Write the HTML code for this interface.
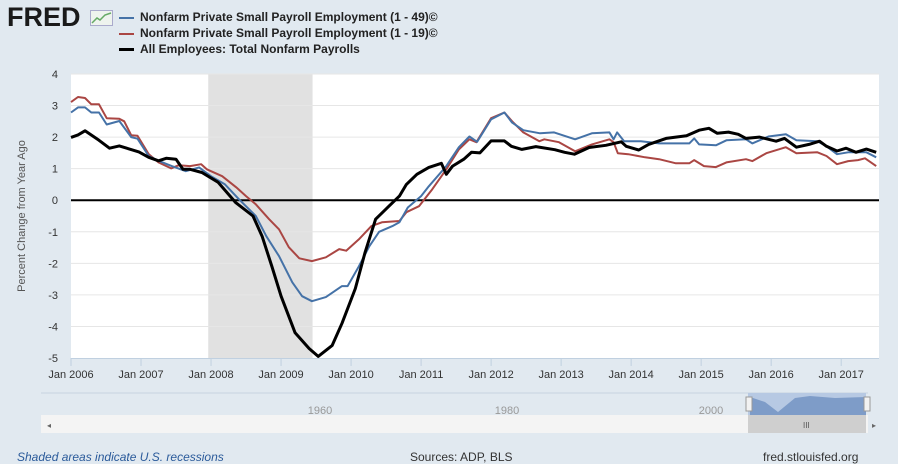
<!DOCTYPE html>
<html><head><meta charset="utf-8">
<style>
body{margin:0;width:898px;height:464px;background:#e1e9f0;font-family:"Liberation Sans",sans-serif;overflow:hidden;position:relative}
.abs{position:absolute}
.leg{left:119px;font-size:12px;font-weight:bold;color:#222;white-space:nowrap}
.sw{display:inline-block;width:15px;height:2px;vertical-align:middle;margin-right:6px}
</style></head><body>
<div class="abs" style="left:7px;top:2px;font-size:27px;font-weight:900;letter-spacing:0px;color:#1a1a1a;font-family:'Liberation Sans',sans-serif">FRED</div>
<svg class="abs" style="left:90px;top:10px" width="23" height="16"><rect x="0.5" y="0.5" width="22" height="15" fill="#eef3ee" stroke="#aac" /><polyline points="2,13 7,8 10,10 15,5 21,3" fill="none" stroke="#6a6" stroke-width="1.5"/></svg>
<div class="abs leg" style="top:10px"><span class="sw" style="background:#4572a7"></span>Nonfarm Private Small Payroll Employment (1 - 49)©</div>
<div class="abs leg" style="top:26px"><span class="sw" style="background:#aa4643"></span>Nonfarm Private Small Payroll Employment (1 - 19)©</div>
<div class="abs leg" style="top:42px"><span class="sw" style="background:#000;height:3px"></span>All Employees: Total Nonfarm Payrolls</div>

<svg id="chart" class="abs" style="left:0;top:0" width="898" height="464"></svg>

<div class="abs" style="left:17px;top:450px;font-size:12px;font-style:italic;color:#2a5a9a">Shaded areas indicate U.S. recessions</div>
<div class="abs" style="left:410px;top:450px;font-size:12px;color:#333">Sources: ADP, BLS</div>
<div class="abs" style="left:763px;top:450px;font-size:12px;color:#333">fred.stlouisfed.org</div>

<script>
const blueX=[2006.0,2006.1,2006.2,2006.29,2006.4,2006.51,2006.69,2006.86,2006.95,2007.11,2007.25,2007.44,2007.64,2007.83,2008.0,2008.2,2008.4,2008.64,2008.79,2008.97,2009.16,2009.3,2009.44,2009.64,2009.87,2009.95,2010.11,2010.26,2010.4,2010.59,2010.69,2010.81,2011.0,2011.11,2011.36,2011.54,2011.69,2011.8,2012.0,2012.19,2012.3,2012.46,2012.7,2012.9,2013.2,2013.44,2013.69,2013.75,2013.8,2013.9,2014.14,2014.4,2014.83,2014.9,2014.97,2015.21,2015.36,2015.64,2015.73,2015.96,2016.21,2016.36,2016.66,2016.79,2016.94,2017.1,2017.24,2017.36,2017.5];
const blueV=[2.78,2.94,2.94,2.78,2.78,2.4,2.51,2.0,1.95,1.4,1.25,1.08,0.92,1.04,0.76,0.5,0.03,-0.5,-1.14,-1.77,-2.6,-3.04,-3.2,-3.07,-2.72,-2.72,-2.1,-1.46,-1.0,-0.82,-0.7,-0.23,0.13,0.44,1.08,1.68,2.02,1.85,2.56,2.78,2.46,2.22,2.12,2.15,1.93,2.12,2.15,1.93,2.15,1.87,1.87,1.8,1.8,1.96,1.77,1.74,1.9,1.93,1.8,2.02,2.09,1.9,1.87,1.71,1.46,1.52,1.52,1.52,1.36];
const redX=[2006.0,2006.1,2006.2,2006.29,2006.4,2006.51,2006.69,2006.76,2006.86,2006.95,2007.11,2007.25,2007.43,2007.54,2007.7,2007.86,2007.94,2008.16,2008.36,2008.5,2008.64,2008.83,2008.97,2009.11,2009.26,2009.44,2009.64,2009.83,2009.93,2010.11,2010.29,2010.44,2010.69,2010.79,2010.97,2011.16,2011.36,2011.54,2011.69,2011.79,2012.0,2012.19,2012.3,2012.46,2012.69,2012.76,2012.97,2013.2,2013.44,2013.69,2013.75,2013.81,2013.96,2014.2,2014.4,2014.64,2014.83,2014.9,2015.04,2015.21,2015.36,2015.64,2015.73,2015.93,2016.21,2016.36,2016.66,2016.79,2016.94,2017.1,2017.24,2017.34,2017.5];
const redV=[3.11,3.27,3.24,3.04,3.04,2.6,2.58,2.5,2.06,2.04,1.46,1.2,1.01,1.11,1.08,1.14,0.98,0.76,0.41,0.13,-0.13,-0.6,-0.92,-1.49,-1.84,-1.93,-1.81,-1.55,-1.6,-1.24,-0.82,-0.7,-0.66,-0.38,-0.19,0.35,0.98,1.61,1.93,1.84,2.6,2.78,2.5,2.15,1.87,1.93,1.84,1.55,1.77,1.93,1.84,1.49,1.46,1.36,1.3,1.17,1.17,1.27,1.08,1.05,1.2,1.3,1.24,1.49,1.68,1.49,1.52,1.4,1.14,1.24,1.27,1.33,1.08];
const blackX=[2006.0,2006.1,2006.2,2006.4,2006.55,2006.69,2006.97,2007.11,2007.25,2007.36,2007.5,2007.6,2007.7,2007.87,2008.1,2008.35,2008.6,2008.73,2008.87,2009.0,2009.2,2009.4,2009.53,2009.73,2009.87,2010.06,2010.2,2010.35,2010.54,2010.69,2010.79,2010.94,2011.11,2011.29,2011.36,2011.45,2011.61,2011.72,2011.84,2012.0,2012.19,2012.29,2012.44,2012.64,2012.91,2013.05,2013.19,2013.4,2013.64,2013.86,2013.93,2014.11,2014.25,2014.5,2014.79,2014.97,2015.11,2015.23,2015.39,2015.53,2015.64,2015.83,2016.07,2016.19,2016.36,2016.54,2016.69,2016.79,2016.94,2017.07,2017.21,2017.36,2017.5];
const blackV=[1.99,2.07,2.2,1.9,1.65,1.72,1.53,1.36,1.25,1.33,1.3,0.98,0.98,0.88,0.57,-0.07,-0.5,-1.14,-2.1,-3.04,-4.2,-4.7,-4.95,-4.6,-3.9,-2.8,-1.65,-0.6,-0.19,0.13,0.5,0.82,1.04,1.17,0.82,1.08,1.3,1.52,1.5,1.88,1.88,1.71,1.61,1.7,1.6,1.52,1.46,1.67,1.74,1.85,1.71,1.59,1.77,1.96,2.04,2.22,2.28,2.12,2.16,2.09,1.96,2.0,1.87,1.96,1.68,1.77,1.87,1.71,1.56,1.65,1.52,1.62,1.52];
const yTicks=[4,3,2,1,0,-1,-2,-3,-4,-5];
const xTickYears=[2006,2007,2008,2009,2010,2011,2012,2013,2014,2015,2016,2017];
const recession=[2007.96,2009.45];

const NS='http://www.w3.org/2000/svg';
const svg=document.getElementById('chart');
const L=71,R=879,T=74,B=358,x0=2006,x1=2017.54;
const X=v=>L+(v-x0)/(x1-x0)*(R-L);
const Y=v=>T+(4-v)/9*(B-T);
function mk(tag,attrs,parent){const e=document.createElementNS(NS,tag);for(const k in attrs)e.setAttribute(k,attrs[k]);(parent||svg).appendChild(e);return e;}
let e;
e=mk('rect',{x:L,y:T,width:R-L,height:B-T,fill:'#fff'});


e=mk('rect',{x:X(recession[0]),y:T,width:X(recession[1])-X(recession[0]),height:B-T,fill:'#e1e1e1'});


yTicks.forEach(t=>{
  if(t!==-5&&t!==0){e=mk('line',{x1:L,x2:R,y1:Y(t),y2:Y(t),stroke:'#e6e6e6','stroke-width':1});
  
  }
  e=mk('text',{x:58,y:Y(t)+4,'text-anchor':'end','font-size':11,fill:'#333','font-family':'Liberation Sans'});
  e.textContent=t;
  
  
});
mk('line',{x1:L,x2:R,y1:B+0.5,y2:B+0.5,stroke:'#c0d0e0'});
xTickYears.forEach(yr=>{
  e=mk('line',{x1:X(yr),x2:X(yr),y1:B,y2:B+8,stroke:'#c0d0e0'});
  
  
  e=mk('text',{x:X(yr),y:B+20,'text-anchor':'middle','font-size':11,fill:'#333','font-family':'Liberation Sans'});
  e.textContent='Jan '+yr;
  
  
});
e=mk('text',{x:0,y:0,transform:'translate(25,216) rotate(-90)','text-anchor':'middle','font-size':11,fill:'#555','font-family':'Liberation Sans'});
e.textContent='Percent Change from Year Ago';


e=mk('line',{x1:L,x2:R,y1:Y(0),y2:Y(0),stroke:'#000','stroke-width':2});


function line(xs,vs,col,w,name){
  const p=xs.map((x,i)=>X(x).toFixed(1)+','+Y(vs[i]).toFixed(1)).join(' ');
  const el=mk('polyline',{points:p,fill:'none',stroke:col,'stroke-width':w,'stroke-linejoin':'round'});
  
  
}
line(redX,redV,'#aa4643',2,'series-1-19');
line(blueX,blueV,'#4572a7',2,'series-1-49');
line(blackX,blackV,'#000',3,'series-total-nonfarm');

const nav=mk('g',{});


mk('line',{x1:41,x2:868,y1:393,y2:393,stroke:'#c8d4e0'},nav);
[['1960',320],['1980',507],['2000',711]].forEach(a=>{const t=mk('text',{x:a[1],y:414,'font-size':11,fill:'#999','text-anchor':'middle','font-family':'Liberation Sans'},nav);t.textContent=a[0];});
mk('rect',{x:748,y:393,width:118,height:22,fill:'#b7c9e3'},nav);
mk('path',{d:'M750,397 L765,402 L778,412 L795,398 L810,396 L835,398 L866,397 L866,415 L750,415Z',fill:'#7e9cc8'},nav);
mk('rect',{x:41,y:415,width:827,height:18,fill:'#f4f4f4'},nav);
mk('rect',{x:748,y:415,width:118,height:18,fill:'#cfcfcf'},nav);
mk('text',{x:47,y:428,'font-size':8,fill:'#666'},nav).textContent='◂';
mk('text',{x:872,y:428,'font-size':8,fill:'#666'},nav).textContent='▸';
mk('text',{x:803,y:428,'font-size':8,fill:'#555'},nav).textContent='III';
[746,864].forEach(hx=>{mk('rect',{x:hx,y:397,width:6,height:14,fill:'#f2f2f2',stroke:'#999'},nav);});
</script>
</body></html>
